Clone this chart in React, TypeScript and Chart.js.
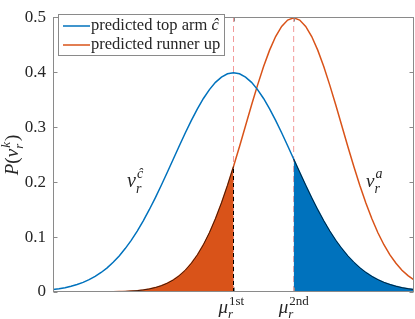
import React, { useEffect, useRef } from "react";
import { Chart, registerables } from "chart.js";
Chart.register(...registerables);

const xs = [
  -3.0, -2.9, -2.8, -2.7, -2.6, -2.5, -2.4, -2.3, -2.2, -2.1,
  -2.0, -1.9, -1.8, -1.7, -1.6, -1.5, -1.4, -1.3, -1.2, -1.1,
  -1.0, -0.9, -0.8, -0.7, -0.6, -0.5, -0.4, -0.3, -0.2, -0.1,
  0.0, 0.1, 0.2, 0.3, 0.4, 0.5, 0.6, 0.7, 0.8, 0.9,
  1.0, 1.1, 1.2, 1.3, 1.4, 1.5, 1.6, 1.7, 1.8, 1.9,
  2.0, 2.1, 2.2, 2.3, 2.4, 2.5, 2.6, 2.7, 2.8, 2.9, 3.0,
];

const topArm = [
  0.0044, 0.0060, 0.0079, 0.0104, 0.0136, 0.0175, 0.0224, 0.0283, 0.0355, 0.0440,
  0.0540, 0.0656, 0.0790, 0.0940, 0.1109, 0.1295, 0.1497, 0.1714, 0.1942, 0.2179,
  0.2420, 0.2661, 0.2897, 0.3123, 0.3332, 0.3521, 0.3683, 0.3814, 0.3910, 0.3970,
  0.3989, 0.3970, 0.3910, 0.3814, 0.3683, 0.3521, 0.3332, 0.3123, 0.2897, 0.2661,
  0.2420, 0.2179, 0.1942, 0.1714, 0.1497, 0.1295, 0.1109, 0.0940, 0.0790, 0.0656,
  0.0540, 0.0440, 0.0355, 0.0283, 0.0224, 0.0175, 0.0136, 0.0104, 0.0079, 0.0060, 0.0044,
];

const runnerUp = [
  0.0000, 0.0000, 0.0000, 0.0000, 0.0000, 0.0000, 0.0001, 0.0001, 0.0002, 0.0003,
  0.0004, 0.0007, 0.0011, 0.0017, 0.0025, 0.0038, 0.0055, 0.0080, 0.0114, 0.0159,
  0.0219, 0.0297, 0.0397, 0.0522, 0.0675, 0.0860, 0.1078, 0.1332, 0.1619, 0.1938,
  0.2283, 0.2648, 0.3025, 0.3401, 0.3764, 0.4102, 0.4401, 0.4648, 0.4833, 0.4948,
  0.4987, 0.4948, 0.4833, 0.4648, 0.4401, 0.4102, 0.3764, 0.3401, 0.3025, 0.2648,
  0.2283, 0.1938, 0.1619, 0.1332, 0.1078, 0.0860, 0.0675, 0.0522, 0.0397, 0.0297, 0.0219,
];

const yTicks = [0, 0.1, 0.2, 0.3, 0.4, 0.5];
const mu1st = 0;
const mu2nd = 1;
const legendLabels = ["predicted top arm ", "predicted runner up"];

const BLUE = "#0072BD";
const ORANGE = "#D95319";
const AXIS = "#8a8a8a";
const TEXT = "#262626";
const PINK = "#f29a9a";
const SERIF = '"Liberation Serif", "DejaVu Serif", serif';

const f = (size: number, italic = false) => `${italic ? "italic " : ""}${size}px ${SERIF}`;

const overlay = {
  id: "overlay",
  afterDatasetsDraw(chart: any) {
    const { ctx, chartArea: a, scales } = chart;
    const x = scales.x;
    const y = scales.y;
    const L = Math.round(a.left) + 0.5;
    const R = Math.round(a.right) - 0.5;
    const T = Math.round(a.top) + 0.5;
    const B = Math.round(a.bottom) - 0.5;
    ctx.save();
    ctx.strokeStyle = AXIS;
    ctx.lineWidth = 1;
    ctx.setLineDash([]);
    ctx.strokeRect(L, T, R - L, B - T);
    ctx.beginPath();
    for (const v of yTicks) {
      const py = Math.round(y.getPixelForValue(v)) + 0.5;
      ctx.moveTo(L, py); ctx.lineTo(L + 4, py);
      ctx.moveTo(R, py); ctx.lineTo(R - 4, py);
    }
    for (const v of [mu1st, mu2nd]) {
      const px = Math.round(x.getPixelForValue(v)) + 0.5;
      ctx.moveTo(px, B); ctx.lineTo(px, B - 4);
      ctx.moveTo(px, T); ctx.lineTo(px, T + 4);
    }
    ctx.stroke();

    ctx.fillStyle = TEXT;
    ctx.textBaseline = "alphabetic";
    ctx.textAlign = "left";

    const muLabel = (v: number, sup: string) => {
      const px = x.getPixelForValue(v) - 15;
      ctx.font = f(19, true);
      ctx.fillText("μ", px, 313);
      const w = ctx.measureText("μ").width;
      ctx.font = f(13, false);
      ctx.fillText(sup, px + w + 1, 305);
      ctx.font = f(13, true);
      ctx.fillText("r", px + w, 318);
    };
    muLabel(mu1st, "1st");
    muLabel(mu2nd, "2nd");

    const nuLabel = (px: number, py: number, sup: string, size: number) => {
      ctx.font = f(size, true);
      ctx.fillText("ν", px, py);
      const w = ctx.measureText("ν").width;
      ctx.font = f(14, true);
      ctx.fillText(sup, px + w + 1, py - 9);
      ctx.fillText("r", px + w, py + 6);
    };
    nuLabel(127, 187, "ĉ", 20);
    nuLabel(366, 187, "a", 19);

    ctx.save();
    ctx.translate(18, 155);
    ctx.rotate(-Math.PI / 2);
    const parts: [string, string][] = [
      ["P", f(19, true)],
      ["(", f(19)],
      ["ν", f(19, true)],
    ];
    let total = 0;
    for (const [t, ft] of parts) { ctx.font = ft; total += ctx.measureText(t).width; }
    ctx.font = f(13, true);
    const wk = ctx.measureText("k").width + 2;
    ctx.font = f(19);
    const wp = ctx.measureText(")").width;
    total += wk + wp;
    let cx = -total / 2;
    for (const [t, ft] of parts) { ctx.font = ft; ctx.fillText(t, cx, 0); cx += ctx.measureText(t).width; }
    ctx.font = f(13, true);
    ctx.fillText("k", cx + 1, -8);
    ctx.fillText("r", cx, 5);
    cx += wk;
    ctx.font = f(19);
    ctx.fillText(")", cx, 0);
    ctx.restore();

    const lx = 58.5, ly = 14.5, lw = 166, lh = 41;
    ctx.fillStyle = "#fff";
    ctx.fillRect(lx, ly, lw, lh);
    ctx.strokeStyle = AXIS;
    ctx.lineWidth = 1;
    ctx.strokeRect(lx, ly, lw, lh);
    const rows: [number, string][] = [[26, BLUE], [45, ORANGE]];
    rows.forEach(([ry, col], i) => {
      ctx.strokeStyle = col;
      ctx.lineWidth = 1.5;
      ctx.beginPath();
      ctx.moveTo(63, ry);
      ctx.lineTo(90, ry);
      ctx.stroke();
      ctx.fillStyle = TEXT;
      ctx.font = f(16.5);
      ctx.textBaseline = "middle";
      ctx.fillText(legendLabels[i], 91, ry);
      if (i === 0) {
        const w = ctx.measureText(legendLabels[i]).width;
        ctx.font = f(16.5, true);
        ctx.fillText("ĉ", 91 + w, ry);
      }
    });
    ctx.restore();
  },
};

export default function App() {
  const ref = useRef<HTMLCanvasElement | null>(null);
  useEffect(() => {
    if (!ref.current) return;
    const topPts = xs.map((x, i) => ({ x, y: topArm[i] }));
    const runPts = xs.map((x, i) => ({ x, y: runnerUp[i] }));
    const fill1 = xs.map((x, i) => ({ x, y: runnerUp[i] })).filter((p) => p.x <= mu1st);
    const fill2 = xs.map((x, i) => ({ x, y: topArm[i] })).filter((p) => p.x >= mu2nd);
    const edgeTop = runnerUp[xs.indexOf(mu1st)];
    const chart = new Chart(ref.current, {
      type: "line",
      data: {
        datasets: [
          { label: "edge", data: [{ x: mu1st, y: 0 }, { x: mu1st, y: edgeTop }], borderColor: "#000", borderWidth: 1, borderDash: [4, 3], pointRadius: 0, fill: false, order: 1 },
          { label: "fill1", data: fill1, borderColor: "#000", borderWidth: 0.7, backgroundColor: ORANGE, fill: "origin", pointRadius: 0, order: 2 },
          { label: "fill2", data: fill2, borderColor: "#000", borderWidth: 0.7, backgroundColor: BLUE, fill: "origin", pointRadius: 0, order: 2 },
          { label: "top", data: topPts, borderColor: BLUE, borderWidth: 1.5, fill: false, pointRadius: 0, order: 3 },
          { label: "runner", data: runPts, borderColor: ORANGE, borderWidth: 1.5, fill: false, pointRadius: 0, order: 3 },
          { label: "v1", data: [{ x: mu1st, y: 0 }, { x: mu1st, y: 0.5 }], borderColor: PINK, borderWidth: 1, borderDash: [6, 4], pointRadius: 0, fill: false, order: 4 },
          { label: "v2", data: [{ x: mu2nd, y: 0 }, { x: mu2nd, y: 0.5 }], borderColor: PINK, borderWidth: 1, borderDash: [6, 4], pointRadius: 0, fill: false, order: 4 },
        ],
      },
      options: {
        responsive: false,
        animation: false,
        devicePixelRatio: 1,
        layout: { padding: { left: 0, top: 8, right: 1, bottom: 27 } },
        plugins: { legend: { display: false }, tooltip: { enabled: false } },
        elements: { line: { tension: 0 } },
        scales: {
          x: { type: "linear", min: -3, max: 3, display: false },
          y: {
            min: 0,
            max: 0.5,
            afterBuildTicks: (s: any) => { s.ticks = yTicks.map((v) => ({ value: v })); },
            afterFit: (s: any) => { s.width = 53; },
            ticks: { padding: 7, color: TEXT, font: { family: SERIF, size: 17 }, callback: (v: any) => String(Math.round(v * 10) / 10) },
            grid: { display: false, drawTicks: false },
            border: { display: false },
          },
        },
      } as any,
      plugins: [overlay],
    });
    return () => chart.destroy();
  }, []);
  return (
    <div style={{ position: "fixed", left: 0, top: 0, width: 415, height: 319, background: "#fff" }}>
      <canvas ref={ref} width={415} height={319} />
    </div>
  );
}
